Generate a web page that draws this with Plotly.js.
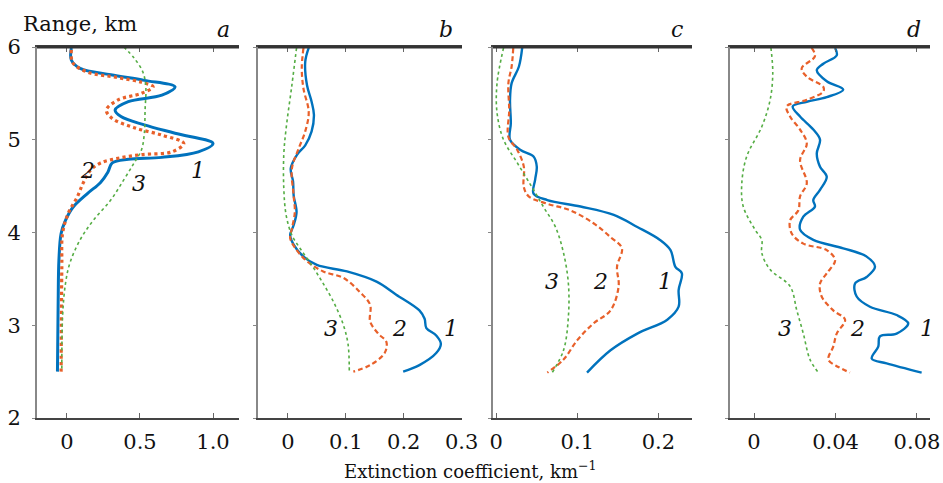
<!DOCTYPE html>
<html>
<head>
<meta charset="utf-8">
<script src="https://cdn.plot.ly/plotly-3.0.1.min.js"></script>
<style>html,body{margin:0;padding:0;background:#fff;}#chart{width:943px;height:483px;}</style>
</head>
<body>
<div id="chart"></div>
<script>
// ---------- Data (Range in km, extinction coefficient in km^-1) ----------
const panelLetters = ["a", "b", "c", "d"];
const curveLabels = ["1", "2", "3"];

// Panel a
const aRange1 = [5.99,5.86,5.77,5.70,5.64,5.57,5.48,5.41,5.32,5.25,5.16,5.07,4.96,4.87,4.81,4.79,4.75,4.65,4.54,4.42,4.27,4.13,3.99,3.70,3.27,2.50];
const aExt1   = [0.03,0.03,0.09,0.30,0.53,0.74,0.65,0.42,0.33,0.37,0.53,0.74,1.00,0.90,0.65,0.42,0.31,0.28,0.23,0.14,0.04,-0.01,-0.04,-0.055,-0.06,-0.065];
const aRange2 = [5.97,5.83,5.73,5.67,5.62,5.57,5.50,5.43,5.32,5.23,5.13,5.05,4.96,4.87,4.84,4.80,4.75,4.67,4.53,4.38,4.21,3.99,3.63,2.50];
const aExt2   = [0.03,0.04,0.14,0.35,0.51,0.59,0.51,0.35,0.27,0.31,0.46,0.65,0.80,0.72,0.51,0.35,0.23,0.16,0.11,0.07,0.01,-0.03,-0.035,-0.04];
const aRange3 = [6.0,5.88,5.73,5.57,5.32,5.07,4.89,4.75,4.57,4.35,4.13,3.92,3.67,3.45,3.09,2.50];
const aExt3   = [0.39,0.46,0.52,0.54,0.535,0.53,0.51,0.46,0.39,0.30,0.18,0.09,0.02,-0.01,-0.03,-0.035];

// Panel b
const bRange1 = [5.99,5.84,5.59,5.41,5.27,5.09,4.94,4.84,4.69,4.55,4.40,4.22,4.08,3.97,3.87,3.74,3.65,3.58,3.47,3.33,3.16,3.07,2.97,2.89,2.80,2.70,2.57,2.50];
const bExt1   = [0.036,0.030,0.033,0.041,0.045,0.041,0.030,0.016,0.005,0.009,0.010,0.015,0.010,0.004,0.010,0.027,0.050,0.102,0.153,0.187,0.227,0.236,0.239,0.256,0.264,0.256,0.227,0.199];
const bRange2 = [5.99,5.77,5.55,5.30,5.09,4.91,4.69,4.40,4.22,4.04,3.94,3.83,3.69,3.58,3.51,3.36,3.22,3.04,2.91,2.82,2.70,2.57,2.50];
const bExt2   = [0.027,0.024,0.027,0.036,0.030,0.019,0.007,0.010,0.012,0.007,0.004,0.013,0.033,0.061,0.096,0.124,0.142,0.142,0.156,0.170,0.167,0.142,0.113];
const bRange3 = [5.99,5.59,5.12,4.84,4.48,4.19,3.97,3.83,3.65,3.47,3.25,3.00,2.79,2.50];
const bExt3   = [0.015,0.007,-0.003,-0.007,-0.007,-0.003,0.007,0.021,0.041,0.059,0.079,0.096,0.104,0.106];

// Panel c
const cRange1 = [5.99,5.79,5.61,5.43,5.18,5.00,4.89,4.82,4.71,4.57,4.42,4.35,4.28,4.19,4.06,3.92,3.81,3.63,3.56,3.38,3.20,3.06,2.91,2.73,2.49];
const cExt1   = [0.032,0.028,0.019,0.017,0.018,0.017,0.030,0.046,0.050,0.048,0.046,0.063,0.104,0.145,0.174,0.202,0.215,0.221,0.229,0.225,0.225,0.211,0.174,0.141,0.112];
const cRange2 = [5.99,5.79,5.61,5.32,5.03,4.89,4.71,4.49,4.39,4.31,4.24,4.10,3.95,3.83,3.63,3.42,3.16,3.02,2.84,2.63,2.49];
const cExt2   = [0.021,0.019,0.015,0.016,0.015,0.026,0.034,0.034,0.040,0.063,0.091,0.120,0.141,0.155,0.149,0.151,0.141,0.120,0.100,0.083,0.063];
const cRange3 = [5.99,5.61,5.29,5.00,4.75,4.49,4.28,4.06,3.78,3.45,3.09,2.73,2.49];
const cExt3   = [0.009,0.001,0.001,0.009,0.026,0.044,0.058,0.073,0.083,0.089,0.089,0.083,0.069];

// Panel d
const dRange1 = [5.99,5.91,5.82,5.75,5.63,5.54,5.46,5.41,5.36,5.25,5.11,5.00,4.85,4.71,4.60,4.46,4.35,4.28,4.17,4.03,3.92,3.83,3.74,3.63,3.52,3.45,3.31,3.20,3.11,3.02,2.91,2.88,2.77,2.64,2.59,2.49];
const dExt1   = [0.0398,0.0406,0.034,0.0308,0.0357,0.0438,0.0357,0.0259,0.019,0.0226,0.0291,0.0324,0.0308,0.0324,0.0357,0.0324,0.0291,0.0299,0.0242,0.0226,0.0291,0.0438,0.0553,0.0594,0.0553,0.0496,0.0504,0.0569,0.070,0.0757,0.070,0.0618,0.061,0.0578,0.0651,0.0823];
const dRange2 = [5.99,5.90,5.77,5.68,5.57,5.52,5.43,5.36,5.25,5.11,4.96,4.78,4.53,4.39,4.24,4.13,3.99,3.88,3.81,3.70,3.56,3.45,3.31,3.16,3.06,2.91,2.77,2.63,2.55,2.49];
const dExt2   = [0.0283,0.0299,0.0234,0.0259,0.034,0.034,0.0259,0.016,0.0177,0.0226,0.0259,0.0226,0.0259,0.0226,0.0218,0.0177,0.0185,0.0242,0.0357,0.0398,0.0357,0.0324,0.0332,0.0389,0.0447,0.0406,0.0389,0.0365,0.0414,0.0471];
const dRange3 = [5.99,5.72,5.43,5.14,4.82,4.53,4.28,4.03,3.92,3.78,3.60,3.42,3.16,2.91,2.63,2.49];
const dExt3   = [0.0083,0.0092,0.0079,0.0038,-0.0036,-0.006,-0.0053,0.0005,0.0038,0.0038,0.0079,0.0177,0.021,0.0242,0.0275,0.0316];

// Axis settings per panel
const xRanges = [[-0.205,1.178],[-0.0515,0.3005],[-0.004,0.2415],[-0.0118,0.0864]];
const xTickVals = [[0,0.5,1.0],[0,0.1,0.2,0.3],[0,0.1,0.2],[0,0.04,0.08]];
const xTickText = [["0","0.5","1.0"],["0","0.1","0.2","0.3"],["0","0.1","0.2"],["0","0.04","0.08"]];
const yTickVals = [2,3,4,5,6];

// Label positions (x value, range) for curve numbers 1,2,3
const labelPos = [
  [[0.90,4.67],[0.14,4.67],[0.49,4.53]],
  [[0.282,2.97],[0.193,2.97],[0.075,2.97]],
  [[0.208,3.47],[0.128,3.47],[0.069,3.47]],
  [[0.0849,2.97],[0.0506,2.97],[0.0152,2.97]]
];

// ---------- Build ----------
const panels = [
  [[aRange1,aExt1],[aRange2,aExt2],[aRange3,aExt3]],
  [[bRange1,bExt1],[bRange2,bExt2],[bRange3,bExt3]],
  [[cRange1,cExt1],[cRange2,cExt2],[cRange3,cExt3]],
  [[dRange1,dExt1],[dRange2,dExt2],[dRange3,dExt3]]
];
const domains = [[37/943,239/943],[258/943,462/943],[493/943,692/943],[730/943,930/943]];
const blue = "#0072BD", orange = "#E8602A", green = "#55AD44";

const traces = [];
panels.forEach((p, i) => {
  const xa = i === 0 ? "x" : "x" + (i + 1);
  const ya = i === 0 ? "y" : "y" + (i + 1);
  traces.push({x: p[0][1], y: p[0][0], xaxis: xa, yaxis: ya, mode: "lines", line: {color: blue, width: i === 0 ? 3 : 2.4, shape: "spline"}, hoverinfo: "skip"});
  traces.push({x: p[1][1], y: p[1][0], xaxis: xa, yaxis: ya, mode: "lines", line: {color: orange, width: i === 0 ? 3.2 : 2.2, dash: i === 0 ? "dot" : "5px,3px", shape: "spline"}, hoverinfo: "skip"});
  traces.push({x: p[2][1], y: p[2][0], xaxis: xa, yaxis: ya, mode: "lines", line: {color: green, width: 1.6, dash: "dot", shape: "spline"}, hoverinfo: "skip"});
});

const font = "DejaVu Serif";
const layout = {
  width: 943, height: 483,
  margin: {l: 0, r: 0, t: 47, b: 65},
  paper_bgcolor: "#fff", plot_bgcolor: "#fff",
  showlegend: false,
  font: {family: font, size: 20, color: "#111"},
  annotations: [],
  shapes: []
};

panels.forEach((p, i) => {
  const sx = i === 0 ? "xaxis" : "xaxis" + (i + 1);
  const sy = i === 0 ? "yaxis" : "yaxis" + (i + 1);
  layout[sx] = {
    domain: domains[i], range: xRanges[i], anchor: i === 0 ? "y" : "y" + (i + 1),
    tickvals: xTickVals[i], ticktext: xTickText[i],
    ticks: "inside", ticklen: 5, tickcolor: "#666", tickwidth: 1,
    showline: true, linecolor: "#444", linewidth: 2, mirror: "allticks",
    showgrid: false, zeroline: false, automargin: false,
    ticklabelstandoff: 4,
    tickfont: {family: font, size: 21, color: "#111"}
  };
  layout[sy] = {
    domain: [0, 1], range: [2, 6], anchor: i === 0 ? "x" : "x" + (i + 1),
    tickvals: yTickVals, ticks: "outside", ticklen: 3, tickcolor: "#888",
    showticklabels: i === 0,
    showline: true, linecolor: "#888", linewidth: 2,
    showgrid: false, zeroline: false, automargin: false,
    ticklabelstandoff: 7,
    tickfont: {family: font, size: 21, color: "#111"}
  };
  // top border darker
  layout.shapes.push({type: "line", xref: "paper", yref: "paper", x0: domains[i][0], x1: domains[i][1], y0: 1, y1: 1, line: {color: "#333", width: 3}});
  // panel letter
  layout.annotations.push({xref: "paper", yref: "paper", x: domains[i][1] - 7/943, y: 1, yshift: 18, xanchor: "right", yanchor: "middle",
    text: "<i>" + panelLetters[i] + "</i>", showarrow: false, font: {family: font, size: 22, color: "#111"}});
  // curve labels
  labelPos[i].forEach((lp, k) => {
    layout.annotations.push({xref: i === 0 ? "x" : "x" + (i + 1), yref: i === 0 ? "y" : "y" + (i + 1), x: lp[0], y: lp[1],
      text: "<i>" + curveLabels[k] + "</i>", showarrow: false, font: {family: font, size: 22, color: "#111"}});
  });
});

layout.annotations.push({xref: "paper", yref: "paper", x: 80/943, y: 1, yshift: 23, xanchor: "center", yanchor: "middle",
  text: "Range, km", showarrow: false, font: {family: font, size: 21, color: "#111"}});
layout.annotations.push({xref: "paper", yref: "paper", x: 470/943, y: 0, yshift: -52, xanchor: "center", yanchor: "middle",
  text: "Extinction coefficient, km<sup>\u22121</sup>", showarrow: false, font: {family: font, size: 18, color: "#111"}});

Plotly.newPlot("chart", traces, layout, {staticPlot: true, displayModeBar: false});
</script>
</body>
</html>
